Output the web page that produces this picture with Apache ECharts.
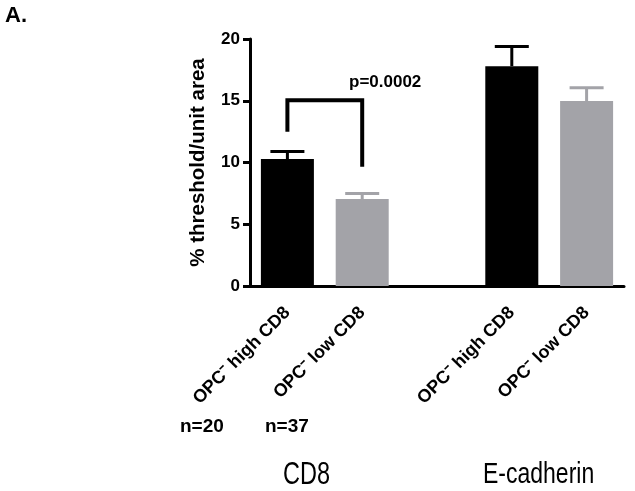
<!DOCTYPE html>
<html>
<head>
<meta charset="utf-8">
<script src="https://cdn.jsdelivr.net/npm/echarts@6/dist/echarts.min.js"></script>
<style>
  html, body { margin: 0; padding: 0; background: #fff; }
  #chart { width: 635px; height: 491px; }
</style>
</head>
<body>
<div id="chart"></div>
<script>
// categories (middle slot is the empty gap between groups)
const categories = ['OPC\u207B high CD8', 'OPC\u207B low CD8', '', 'OPC\u207B high CD8', 'OPC\u207B low CD8'];
const means = [10.28, 7.04, null, 17.8, 14.98];
const errTop = [10.9, 7.5, null, 19.4, 16.05];
const barColors = ['#000000', '#a3a3a8', '#000000', '#000000', '#a3a3a8'];
const yTicks = { min: 0, max: 20, interval: 5 };
// significance bracket: [leftCat, rightCat, top, leftLegBottom, rightLegBottom]
const bracket = [0, 1, 15.05, 12.5, 9.65];

const myChart = echarts.init(document.getElementById('chart'));
const font = 'Liberation Sans, Arial, sans-serif';

const barData = means.map((v, i) => v === null ? '-' : { value: v, itemStyle: { color: barColors[i] } });
const errData = [];
means.forEach((v, i) => { if (v !== null) errData.push([i, v, errTop[i]]); });

const option = {
  animation: false,
  grid: { left: 250, right: 11, top: 39, bottom: 205 },
  xAxis: {
    type: 'category',
    data: categories,
    axisLine: { lineStyle: { color: '#000', width: 3 } },
    axisTick: { alignWithLabel: true, length: 8, lineStyle: { color: '#000', width: 3 } },
    axisLabel: {
      rotate: 45, margin: 24, color: '#000', fontWeight: 'bold', fontSize: 18, fontFamily: font,
      interval: 0
    }
  },
  yAxis: {
    type: 'value',
    min: yTicks.min, max: yTicks.max, interval: yTicks.interval,
    name: '% threshold/unit area',
    nameLocation: 'middle',
    nameGap: 41,
    nameTextStyle: { color: '#000', fontWeight: 'bold', fontSize: 20.5, fontFamily: font },
    splitLine: { show: false },
    axisLine: { show: true, lineStyle: { color: '#000', width: 3 } },
    axisTick: { show: true, length: 7, lineStyle: { color: '#000', width: 3 } },
    axisLabel: { color: '#000', fontWeight: 'bold', fontSize: 17, fontFamily: font, margin: 10 }
  },
  series: [
    {
      type: 'bar',
      barWidth: 53,
      data: barData,
      z: 2
    },
    {
      type: 'custom',
      z: 3,
      data: errData,
      renderItem: function (params, api) {
        const i = api.value(0);
        const base = api.coord([i, api.value(1)]);
        const top = api.coord([i, api.value(2)]);
        const color = barColors[i];
        const half = 17;
        return {
          type: 'group',
          children: [
            { type: 'line', shape: { x1: base[0], y1: base[1], x2: top[0], y2: top[1] }, style: { stroke: color, lineWidth: 3 } },
            { type: 'line', shape: { x1: top[0] - half, y1: top[1], x2: top[0] + half, y2: top[1] }, style: { stroke: color, lineWidth: 3 } }
          ]
        };
      }
    },
    {
      type: 'custom',
      z: 4,
      data: [bracket],
      renderItem: function (params, api) {
        const l = api.value(0), r = api.value(1);
        const tl = api.coord([l, api.value(2)]);
        const tr = api.coord([r, api.value(2)]);
        const bl = api.coord([l, api.value(3)]);
        const br = api.coord([r, api.value(4)]);
        return {
          type: 'polyline',
          shape: { points: [bl, tl, tr, br] },
          style: { stroke: '#000', lineWidth: 4, fill: null, lineJoin: 'miter' }
        };
      }
    }
  ],
  graphic: [
    { type: 'text', left: 5, top: 5, style: { text: 'A.', font: 'bold 22px ' + font, fill: '#000' } },
    { type: 'text', left: 349, top: 74, style: { text: 'p=0.0002', font: 'bold 17px ' + font, fill: '#000' } },
    { type: 'text', left: 180, top: 417, style: { text: 'n=20', font: 'bold 19px ' + font, fill: '#000' } },
    { type: 'text', left: 265, top: 417, style: { text: 'n=37', font: 'bold 19px ' + font, fill: '#000' } },
    { type: 'text', x: 283, y: 460, scaleY: 1.3, style: { text: 'CD8', font: '23.5px ' + font, fill: '#000' } },
    { type: 'text', x: 483, y: 460, scaleY: 1.3, style: { text: 'E-cadherin', font: '23px ' + font, fill: '#000' } }
  ]
};

myChart.setOption(option);
</script>
</body>
</html>
